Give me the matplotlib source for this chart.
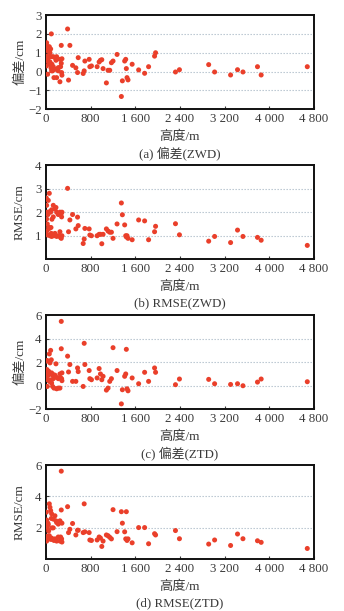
import numpy as np
import matplotlib
matplotlib.use("Agg")
import matplotlib.pyplot as plt

plt.rcParams['font.family'] = ['Liberation Serif', 'Noto Sans CJK SC', 'DejaVu Sans']
plt.rcParams['axes.unicode_minus'] = True

# station heights (m), shared by all four panels
heights = [10, 15, 15, 21, 27, 27, 33, 39, 45, 51, 63, 63, 75, 75, 87, 93, 99, 104, 104, 110,
           122, 134, 134, 146, 164, 164, 182, 194, 194, 223, 223, 253, 253, 265, 277, 277, 283, 289, 289,
           390, 407, 431, 479, 538, 568, 580, 669, 687, 699, 776, 788, 817, 918, 954, 978, 1002, 1025,
           1084, 1114, 1144, 1174, 1203, 1275, 1352, 1370, 1411, 1430, 1441, 1453, 1471, 1545, 1661,
           1768, 1839, 1946, 1964, 2320, 2391, 2914, 3020, 3306, 3430, 3527, 3787, 3853, 4678]

bias_zwd = [0.3, 1.53, 0.82, 1.15, 1.35, 0.56, -0.14, 1.09, 0.7, 0.79, 1.32, 0.39, 1.0, 0.51, 1.2, 0.2, 2.0, 0.79, 0.04, 0.39,
            0.04, 0.79, 0.26, -0.32, 0.74, 0.12, 0.6, 0.79, -0.32, 0.21, 0.04, 0.65, -0.54, 0.26, 1.39, 0.44, -0.05, -0.19, 0.68,
            2.26, -0.45, 1.39, 0.33, 0.2, -0.05, 0.74, -0.1, 0.04, 0.56, 0.65, 0.26, 0.3, 0.26, 0.51, 0.6, 0.63, 0.16,
            -0.6, 0.07, 0.07, 0.47, 0.56, 0.91, -1.32, -0.49, 0.56, 0.65, 0.16, -0.32, -0.44, 0.39, 0.09,
            -0.09, 0.26, 0.82, 1.0, -0.02, 0.1, 0.37, -0.02, -0.18, 0.1, -0.02, 0.26, -0.18, 0.26]

rmse_zwd = [2.6, 2.29, 1.71, 1.21, 2.0, 1.5, 1.03, 1.9, 2.5, 1.36, 2.8, 1.31, 2.03, 1.0, 2.0, 1.35, 1.1, 2.1, 0.97, 1.7,
            1.0, 2.29, 1.8, 1.0, 2.14, 1.1, 2.2, 2.0, 0.97, 1.0, 1.9, 2.0, 1.17, 0.92, 1.95, 0.89, 1.8, 1.0, 2.0,
            3.01, 1.17, 1.67, 1.9, 1.29, 1.79, 1.43, 0.67, 0.86, 1.31, 1.29, 1.03, 1.0, 1.0, 1.06, 1.06, 0.66, 1.06,
            1.29, 1.2, 1.15, 1.15, 0.89, 1.5, 2.39, 1.89, 1.46, 1.0, 0.95, 1.0, 0.89, 0.83, 1.67,
            1.63, 0.83, 1.17, 1.4, 1.51, 1.04, 0.77, 0.97, 0.71, 1.24, 0.97, 0.93, 0.81, 0.59]

bias_ztd = [1.2, 2.09, 0.8, 1.37, 2.14, -0.06, 0.51, 1.0, 0.9, 1.23, 2.7, 0.37, 1.94, 0.5, 3.0, 0.3, 2.2, 1.09, 0.23, 0.94,
            -0.06, 0.94, 0.6, -0.2, 0.9, 0.8, 1.86, 0.7, -0.26, 0.6, -0.2, 1.0, -0.2, 0.66, 5.46, 3.14, 0.6, 1.09, 0.43,
            2.51, 1.17, 1.8, 0.37, 0.37, 1.51, 1.2, -0.06, 3.6, 1.8, 1.29, 0.6, 0.51, 0.66, 1.46, 1.0, 0.51, 0.8,
            -0.37, -0.2, 0.37, 0.6, 3.23, 1.29, -1.54, -0.34, 0.8, 1.0, 3.09, -0.26, -0.43, 0.66, 0.17,
            1.14, 0.37, 1.51, 1.14, 0.09, 0.57, 0.54, 0.17, 0.11, 0.17, 0.0, 0.31, 0.57, 0.34]

rmse_ztd = [3.0, 2.5, 1.16, 2.3, 2.02, 1.4, 1.48, 2.3, 2.2, 1.8, 3.53, 1.5, 3.31, 1.3, 3.1, 1.27, 2.6, 2.9, 1.35, 2.0,
            1.27, 2.56, 2.0, 1.2, 2.77, 1.3, 2.45, 2.34, 1.16, 1.42, 2.24, 2.45, 1.16, 1.42, 5.61, 3.14, 1.3, 1.1, 2.3,
            3.35, 1.7, 1.91, 2.28, 1.55, 1.85, 1.85, 1.7, 3.53, 1.75, 1.7, 1.23, 1.2, 1.23, 1.42, 1.35, 0.82, 1.16,
            1.55, 1.5, 1.4, 1.3, 3.16, 1.76, 3.03, 2.3, 1.75, 1.3, 3.03, 1.2, 1.3, 1.05, 2.02,
            2.02, 0.99, 1.63, 1.55, 1.83, 1.31, 0.97, 1.23, 0.88, 1.61, 1.31, 1.18, 1.08, 0.69]

x_ticks = [0, 800, 1600, 2400, 3200, 4000, 4800]
x_ticklabels = ['0', '800', '1 600', '2 400', '3 200', '4 000', '4 800']

panels = [
    (bias_zwd, '偏差/cm', '(a) 偏差(ZWD)', (-2, 3), [-2, -1, 0, 1, 2, 3], ['−2', '−1', '0', '1', '2', '3']),
    (rmse_zwd, 'RMSE/cm', '(b) RMSE(ZWD)', (0, 4), [1, 2, 3, 4], ['1', '2', '3', '4']),
    (bias_ztd, '偏差/cm', '(c) 偏差(ZTD)', (-2, 6), [-2, 0, 2, 4, 6], ['−2', '0', '2', '4', '6']),
    (rmse_ztd, 'RMSE/cm', '(d) RMSE(ZTD)', (0, 6), [2, 4, 6], ['2', '4', '6']),
]

fig = plt.figure(figsize=(3.44, 6.11), dpi=100)
bottoms = [0.8211, 0.5756, 0.3301, 0.0846]
txt_col = '#3a3a3a'

for (vals, ylab, cap, ylim, yt, ytl), b in zip(panels, bottoms):
    ax = fig.add_axes([0.1331, b, 0.780, 0.1543])
    for g in yt:
        if ylim[0] < g < ylim[1]:
            ax.axhline(g, color='#b3c0cc', lw=0.8, ls=(0, (1.2, 1.5)), zorder=0)
    ax.scatter(heights, vals, s=13, color='#ea3f2a', edgecolors='none', zorder=3)
    ax.set_xlim(0, 4800)
    ax.set_ylim(*ylim)
    ax.set_xticks(x_ticks)
    ax.set_xticklabels(x_ticklabels)
    ax.set_yticks(yt)
    ax.set_yticklabels(ytl)
    ax.tick_params(direction='in', length=2.5, width=0.8, labelsize=9.3, colors=txt_col, pad=3)
    for sp in ax.spines.values():
        sp.set_linewidth(1.4)
        sp.set_color('#111111')
    ax.text(-0.096, 0.5, ylab, transform=ax.transAxes, rotation=90, ha='center', va='center',
            fontsize=9.5, color=txt_col)
    ax.text(0.5, -0.29, '高度/m', transform=ax.transAxes, ha='center', va='center',
            fontsize=9.5, color=txt_col)
    ax.text(0.5, -0.466, cap, transform=ax.transAxes, ha='center', va='center',
            fontsize=9.3, color=txt_col)

fig.savefig('out.png', dpi=100)
